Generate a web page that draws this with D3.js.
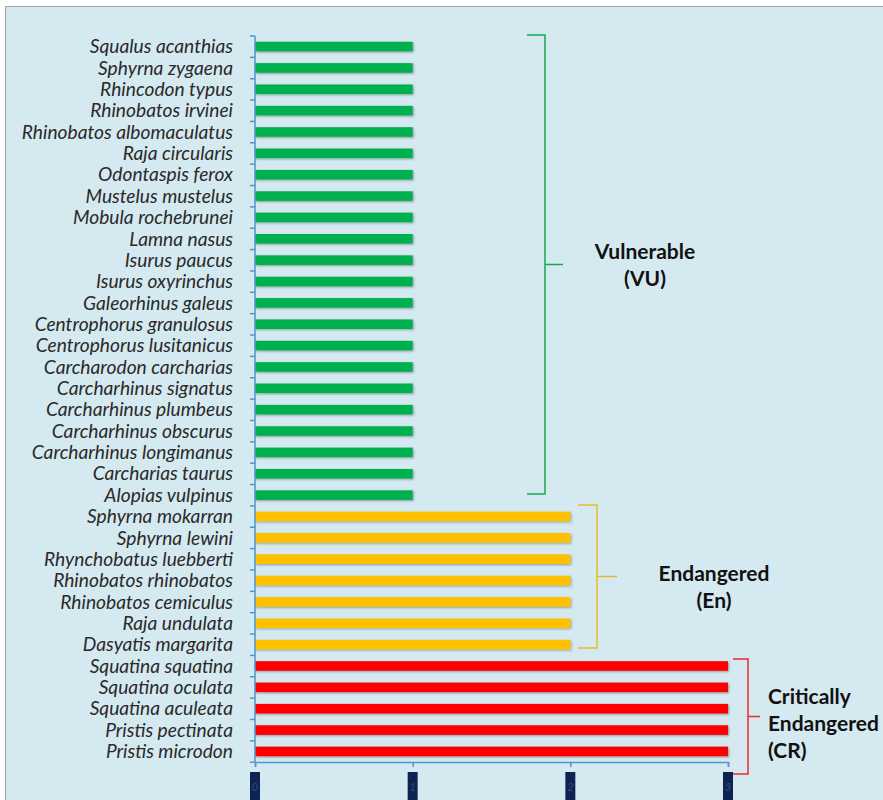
<!DOCTYPE html>
<html>
<head>
<meta charset="utf-8">
<script src="https://cdn.jsdelivr.net/npm/d3@7"></script>
<style>
  body { margin: 0; background: #fff; }
  svg { display: block; }
</style>
</head>
<body>
<div id="chart"></div>
<script>
// species top to bottom, with status level (1 = VU, 2 = EN, 3 = CR)
const species = [
  'Squalus acanthias', 'Sphyrna zygaena', 'Rhincodon typus', 'Rhinobatos irvinei',
  'Rhinobatos albomaculatus', 'Raja circularis', 'Odontaspis ferox', 'Mustelus mustelus',
  'Mobula  rochebrunei', 'Lamna nasus', 'Isurus paucus', 'Isurus oxyrinchus',
  'Galeorhinus galeus', 'Centrophorus granulosus', 'Centrophorus lusitanicus',
  'Carcharodon carcharias', 'Carcharhinus signatus', 'Carcharhinus plumbeus',
  'Carcharhinus obscurus', 'Carcharhinus longimanus', 'Carcharias taurus', 'Alopias vulpinus',
  'Sphyrna mokarran', 'Sphyrna lewini', 'Rhynchobatus luebberti', 'Rhinobatos rhinobatos',
  'Rhinobatos cemiculus', 'Raja undulata', 'Dasyatis margarita',
  'Squatina squatina', 'Squatina oculata', 'Squatina aculeata', 'Pristis pectinata',
  'Pristis microdon'
];
const levels = [
  1, 1, 1, 1, 1, 1, 1, 1, 1, 1, 1, 1, 1, 1, 1, 1, 1, 1, 1, 1, 1, 1,
  2, 2, 2, 2, 2, 2, 2,
  3, 3, 3, 3, 3
];
const xTicks = [0, 1, 2, 3];
const groups = [
  { name: ['Vulnerable', '(VU)'], color: '#1aa84f' },
  { name: ['Endangered', '(En)'], color: '#e8b92a' },
  { name: ['Critically', 'Endangered', '(CR)'], color: '#ee2a2a' }
];
const barColors = { 1: '#00b050', 2: '#ffc000', 3: '#ff0000' };

const W = 883, H = 800;
const svg = d3.select('#chart').append('svg')
  .attr('width', W).attr('height', H);

const defs = svg.append('defs');
const f = defs.append('filter').attr('id', 'sh').attr('x', '-5%').attr('y', '-50%').attr('width', '110%').attr('height', '200%');
f.append('feDropShadow').attr('dx', 1).attr('dy', 1).attr('stdDeviation', 0.8).attr('flood-color', '#000').attr('flood-opacity', 0.35);

// panel
svg.append('rect').attr('x', 0).attr('y', 0).attr('width', W).attr('height', H).attr('fill', '#fff');
svg.append('rect').attr('x', 5.5).attr('y', 6.5).attr('width', W).attr('height', H)
  .attr('fill', '#d5e9f0').attr('stroke', '#9aa7ad').attr('stroke-width', 1);

const x = d3.scaleLinear().domain([0, 3]).range([255, 728]);
const y = d3.scaleBand().domain(species).range([36, 762]).paddingInner(0.55).paddingOuter(0.27);

const g = svg.append('g');

// bars
g.selectAll('rect.bar')
  .data(species)
  .join('rect')
  .attr('class', 'bar')
  .attr('x', x(0))
  .attr('y', d => y(d))
  .attr('width', (d, i) => x(levels[i]) - x(0))
  .attr('height', y.bandwidth())
  .attr('fill', (d, i) => barColors[levels[i]])
  .attr('filter', 'url(#sh)');

// y axis line with ticks between categories
const axisColor = '#4f95d0';
g.append('line').attr('x1', 255).attr('x2', 255).attr('y1', 36).attr('y2', 762)
  .attr('stroke', axisColor).attr('stroke-width', 1.5);
const boundaries = d3.range(species.length + 1).map(i => 36 + i * y.step());
g.selectAll('line.ytick')
  .data(boundaries)
  .join('line')
  .attr('class', 'ytick')
  .attr('x1', 250).attr('x2', 255)
  .attr('y1', d => d).attr('y2', d => d)
  .attr('stroke', axisColor).attr('stroke-width', 1.5);

// category labels
g.selectAll('text.lab')
  .data(species)
  .join('text')
  .attr('class', 'lab')
  .attr('x', 233)
  .attr('y', d => y(d) + y.bandwidth() / 2)
  .attr('dy', '0.35em')
  .attr('text-anchor', 'end')
  .attr('font-family', 'Lato, sans-serif')
  .attr('font-style', 'italic')
  .attr('font-size', 19.2)
  .attr('fill', '#2a2a2a')
  .text(d => d);

// x axis
const xAxis = g.append('g').attr('transform', 'translate(0,762)')
  .call(d3.axisBottom(x).tickValues(xTicks).tickSize(5).tickFormat(''));
xAxis.select('.domain').attr('stroke', axisColor).attr('stroke-width', 1.5);
xAxis.selectAll('.tick line').attr('stroke', axisColor).attr('stroke-width', 1.5);

// tick labels as dark blocks
const tl = g.selectAll('g.tl').data(xTicks).join('g').attr('class', 'tl')
  .attr('transform', d => `translate(${x(d)},0)`);
tl.append('rect').attr('x', -5).attr('y', 772).attr('width', 10).attr('height', 28).attr('fill', '#0f2350');
tl.append('text').attr('x', 0).attr('y', 791).attr('text-anchor', 'middle')
  .attr('font-family', 'Lato, sans-serif').attr('font-style', 'italic')
  .attr('font-size', 11).attr('fill', '#2c4a86').text(d => d);

// brackets
const bracketDims = [
  { x0: 527, x1: 545, tip: 563, top: 35, bot: 494, lx: 645, anchor: 'middle', ly: 259 },
  { x0: 578, x1: 597, tip: 617, top: 505, bot: 648, lx: 714, anchor: 'middle', ly: 581 },
  { x0: 733, x1: 748, tip: 760, top: 659, bot: 774, lx: 768, anchor: 'start', ly: 704 }
];
groups.forEach((grp, i) => {
  const b = bracketDims[i];
  const mid = (b.top + b.bot) / 2;
  g.append('path')
    .attr('d', `M${b.x0},${b.top}H${b.x1}V${b.bot}H${b.x0}M${b.x1},${mid}H${b.tip}`)
    .attr('fill', 'none').attr('stroke', grp.color).attr('stroke-width', 1.5);
  const t = g.append('text')
    .attr('x', b.lx).attr('y', b.ly)
    .attr('text-anchor', b.anchor)
    .attr('font-family', 'Lato, sans-serif')
    .attr('font-weight', 'bold')
    .attr('font-size', 21)
    .attr('fill', '#111');
  grp.name.forEach((line, j) => {
    t.append('tspan').attr('x', b.lx).attr('dy', j === 0 ? 0 : 27).text(line);
  });
});
</script>
</body>
</html>
